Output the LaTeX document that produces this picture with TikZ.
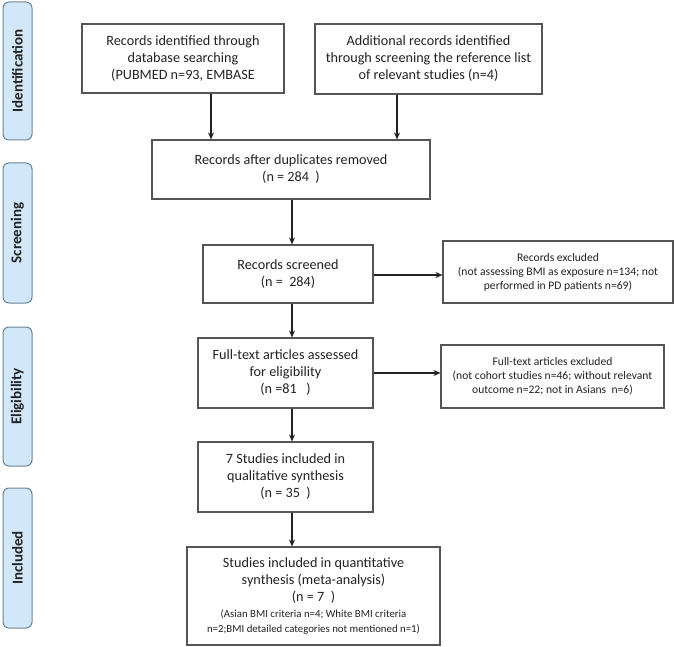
\documentclass[tikz,border=0pt]{standalone}
\usepackage{fontspec}
\setmainfont{Carlito}
\usetikzlibrary{arrows.meta,calc}
\definecolor{sidefill}{HTML}{D2E7F8}
\definecolor{sidedraw}{HTML}{6A8499}
\definecolor{boxdraw}{HTML}{555555}
\definecolor{txt}{HTML}{222222}
\tikzset{
  side/.style={draw=sidedraw, fill=sidefill, line width=1pt, rounded corners=6pt,
    minimum width=29pt, inner sep=0pt, font=\fontsize{15}{17}\selectfont\bfseries, text=txt},
  box/.style={draw=boxdraw, line width=1.1pt, inner sep=0pt, align=center, text=txt,
    font=\fontsize{14.2}{17}\selectfont},
  smallbox/.style={box, font=\fontsize{11.6}{14}\selectfont},
  arr/.style={draw=txt, line width=1.2pt, -{Stealth[length=7pt,width=6pt]}}
}
\begin{document}
\begin{tikzpicture}[x=1pt,y=-1pt]
\useasboundingbox (0,0) rectangle (675,647);
% side labels
\node[side, minimum height=138pt] (sid) at (17.5,71) {\rotatebox{90}{Identification}};
\node[side, minimum height=140pt] (sscr) at (17.5,233) {\rotatebox{90}{Screening}};
\node[side, minimum height=139pt] (selig) at (17.5,396.5) {\rotatebox{90}{Eligibility}};
\node[side, minimum height=140pt] (sinc) at (17.5,558) {\rotatebox{90}{Included}};
% boxes
\node[box, minimum width=202pt, minimum height=69pt] (b1) at (183,58.5)
  {Records identified through\\database searching\\(PUBMED n=93, EMBASE};
\node[box, minimum width=227pt, minimum height=70pt] (b2) at (428.5,59)
  {Additional records identified\\through screening the reference list\\of relevant studies (n=4)};
\node[box, minimum width=278pt, minimum height=59pt] (dup) at (291,169.5)
  {Records after duplicates removed\\(n = 284~~)};
\node[box, minimum width=170pt, minimum height=58pt] (scr) at (288,274)
  {Records screened\\(n =~~284)};
\node[smallbox, minimum width=230pt, minimum height=62pt] (exc1) at (558,272)
  {Records excluded\\(not assessing BMI as exposure n=134; not\\performed in PD patients n=69)};
\node[box, minimum width=175pt, minimum height=70pt] (ft) at (285.5,373)
  {Full-text articles assessed\\for eligibility\\(n =81~~~)};
\node[smallbox, minimum width=223pt, minimum height=63pt] (exc2) at (552.5,376.5)
  {Full-text articles excluded\\(not cohort studies n=46; without relevant\\outcome n=22; not in Asians~~n=6)};
\node[box, minimum width=175pt, minimum height=70pt] (st7) at (285.5,477)
  {7 Studies included in\\qualitative synthesis\\(n = 35~~)};
\node[box, minimum width=253pt, minimum height=98pt] (inc) at (313.5,596)
  {Studies included in quantitative\\synthesis (meta-analysis)\\(n = 7~~)\\[-1pt]
   {\fontsize{10.8}{14}\selectfont (Asian BMI criteria n=4; White BMI criteria}\\[-2pt]
   {\fontsize{10.8}{14}\selectfont n=2;BMI detailed categories not mentioned n=1)}};
% connectors
\coordinate (ax) at (292,0);
\draw[arr] ([xshift=28pt]b1.south) -- ([xshift=28pt]b1.south |- dup.north);
\draw[arr] ([xshift=-31.5pt]b2.south) -- ([xshift=-31.5pt]b2.south |- dup.north);
\draw[arr] (dup.south -| ax) -- (scr.north -| ax);
\draw[arr] (scr.south -| ax) -- (ft.north -| ax);
\draw[arr] (ft.south -| ax) -- (st7.north -| ax);
\draw[arr] (st7.south -| ax) -- (inc.north -| ax);
\draw[arr] ([yshift=-1pt]scr.east) -- ([yshift=-1pt]scr.east -| exc1.west);
\draw[arr] (ft.east) -- (ft.east -| exc2.west);
\end{tikzpicture}
\end{document}
